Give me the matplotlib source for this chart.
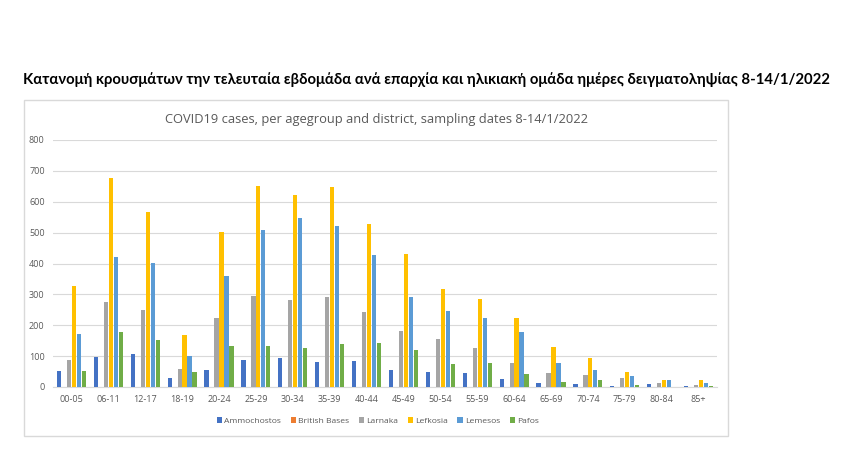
import numpy as np
import matplotlib
matplotlib.use('Agg')
import matplotlib.pyplot as plt
from matplotlib.patches import Rectangle

# Data
age_groups = ['00-05', '06-11', '12-17', '18-19', '20-24', '25-29', '30-34', '35-39',
              '40-44', '45-49', '50-54', '55-59', '60-64', '65-69', '70-74', '75-79',
              '80-84', '85+']
districts = ['Ammochostos', 'British Bases', 'Larnaka', 'Lefkosia', 'Lemesos', 'Pafos']

ammochostos = [51, 96, 107, 29, 56, 88, 94, 80, 83, 55, 49, 45, 25, 12, 11, 4, 10, 4]
british_bases = [0] * 18
larnaka = [88, 274, 250, 58, 223, 296, 281, 291, 243, 180, 154, 126, 78, 45, 39, 28, 13, 6]
lefkosia = [328, 676, 566, 169, 502, 651, 621, 649, 529, 430, 319, 284, 223, 130, 93, 47, 23, 23]
lemesos = [172, 420, 403, 102, 360, 510, 547, 520, 426, 293, 246, 224, 179, 78, 54, 37, 23, 14]
pafos = [51, 177, 153, 50, 134, 134, 127, 138, 143, 121, 73, 78, 43, 15, 22, 8, 0, 4]

series = [ammochostos, british_bases, larnaka, lefkosia, lemesos, pafos]
colors = ['#4472C4', '#ED7D31', '#A5A5A5', '#FFC000', '#5B9BD5', '#70AD47']

W, H = 846, 455
fig = plt.figure(figsize=(W / 100, H / 100), dpi=100)
fig.patch.set_facecolor('white')

def fx(px):
    return px / W

def fy(py):
    return 1 - py / H

# page title above the chart, shrunk to the reference width (~808 px)
title = fig.text(fx(426), fy(80), 'Κατανομή κρουσμάτων την τελευταία εβδομάδα ανά επαρχία και ηλικιακή ομάδα ημέρες δειγματοληψίας 8-14/1/2022',
                 ha='center', va='center', fontsize=10.5, fontweight='bold', family='Lato',
                 color='black')
renderer = fig.canvas.get_renderer()
tw = title.get_window_extent(renderer).width
title.set_fontsize(10.5 * 808 / tw)

# chart frame
fig.patches.append(Rectangle((fx(24), fy(436)), fx(728) - fx(24), fy(100) - fy(436),
                             transform=fig.transFigure, fill=False, edgecolor='#D9D9D9',
                             linewidth=1.0))

fig.text(fx(376), fy(120), 'COVID19 cases, per agegroup and district, sampling dates 8-14/1/2022',
         ha='center', va='center', fontsize=9.3, color='#595959', family='Open Sans')

ax = fig.add_axes([fx(53), fy(387), fx(717) - fx(53), fy(140) - fy(387)])
x = np.arange(len(age_groups))
bw = 0.135
for i, (vals, c) in enumerate(zip(series, colors)):
    ax.bar(x + (i - 2.5) * bw, vals, width=bw * 0.85, color=c, label=districts[i], zorder=3)

ax.set_xlim(-0.5, len(age_groups) - 0.5)
ax.set_ylim(0, 800)
ax.set_yticks(range(0, 801, 100))
ax.grid(axis='y', color='#D9D9D9', linewidth=0.8, zorder=0)
for s in ['top', 'right', 'left']:
    ax.spines[s].set_visible(False)
ax.spines['bottom'].set_color('#D9D9D9')
ax.tick_params(axis='both', length=0, labelsize=6.5, labelcolor='#595959', pad=6)
ax.set_xticks(x)
ax.set_xticklabels(age_groups)
for t in ax.get_xticklabels() + ax.get_yticklabels():
    t.set_family('Open Sans')

leg = fig.legend(loc='center', bbox_to_anchor=(fx(378), fy(421)), ncol=6, frameon=False,
                 fontsize=6.1, handlelength=0.6, handleheight=0.6, handletextpad=0.3,
                 columnspacing=1.1)
for t in leg.get_texts():
    t.set_color('#595959')
    t.set_family('Open Sans')

fig.savefig('out.png', dpi=100, facecolor='white')
